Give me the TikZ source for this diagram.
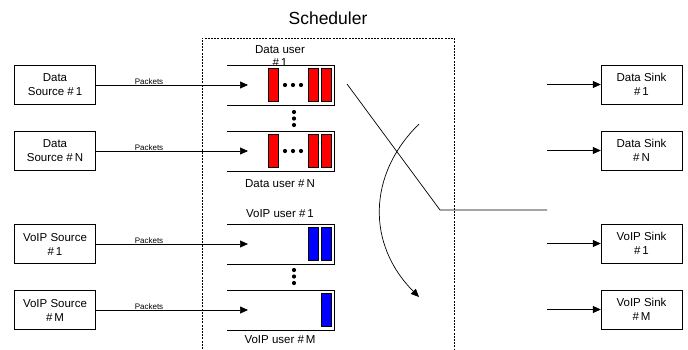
\documentclass[tikz,border=0pt]{standalone}
\usepackage{fontspec}
\setmainfont{Liberation Sans}
\usetikzlibrary{positioning,arrows.meta}
\newcommand\qleft{227}
\newcommand\qright{334}
\newcommand\drawqueue[2]{
  \draw (\qleft,#1) -- (\qright,#1) -- (\qright,#1+40) -- (\qleft,#1+40);
  \coordinate (#2) at (248,#1+20);
}
\newcommand\drawpacket[3]{
  \draw[packet,fill=#3] (#1,#2+3) rectangle ++(10,33);
}
\newcommand\drawdots[2]{
  \fill (#1,#2) circle (2.1) ++(8,0) circle (2.1) ++(8,0) circle (2.1);
}
\newcommand\drawvdots[1]{
  \fill (294,#1) circle (2.1) ++(0,6.5) circle (2.1) ++(0,6.5) circle (2.1);
}

\begin{document}
\begin{tikzpicture}[
    x=1pt,y=-1pt,
    box/.style={draw,minimum width=81pt,minimum height=39pt,inner sep=0pt,
      align=center,font=\fontsize{11.5}{14}\selectfont},
    qlabel/.style={inner sep=0pt,align=center,font=\fontsize{11.5}{13}\selectfont},
    pkt/.style={font=\fontsize{8}{9}\selectfont,inner sep=0.5pt},
    packet/.style={line width=0.6pt},
    flow/.style={-{Triangle[length=8pt,width=7pt]},line width=0.7pt},
    sched/.style={dash pattern=on 2pt off 1.2pt,line width=0.7pt}
  ]
    \useasboundingbox (0,0) rectangle (688,349);

    % scheduler frame
    \draw[sched] (202,349) -- (202,38) -- (454,38) -- (454,349);
    \node[font=\fontsize{17.5}{20}\selectfont] (title) at (328,18) {Scheduler};

    % sources
    \node[box] (dsrc1) at (55,85) {Data\\Source \#\,1};
    \node[box] (dsrcN) at (55,151) {Data\\Source \#\,N};
    \node[box] (vsrc1) at (55,244) {VoIP Source\\\#\,1};
    \node[box] (vsrcM) at (55,310) {VoIP Source\\\#\,M};

    % queues
    \begin{scope}[line width=0.7pt]
      \drawqueue{65}{dq1}
      \drawqueue{131}{dqN}
      \drawqueue{224}{vq1}
      \drawqueue{290}{vqM}
    \end{scope}

    \node[qlabel] (dq1lbl) at (280,56) {Data user\\\#\,1};
    \node[qlabel] (dqNlbl) at (280,184) {Data user \#\,N};
    \node[qlabel] (vq1lbl) at (280,214) {VoIP user \#\,1};
    \node[qlabel] (vqMlbl) at (280,340) {VoIP user \#\,M};

    % packets
    \drawpacket{268}{65}{red}
    \drawpacket{308}{65}{red}
    \drawpacket{321}{65}{red}
    \drawdots{285}{85}
    \drawpacket{268}{131}{red}
    \drawpacket{308}{131}{red}
    \drawpacket{321}{131}{red}
    \drawdots{285}{151}
    \drawpacket{308}{224}{blue}
    \drawpacket{321}{224}{blue}
    \drawpacket{321}{290}{blue}
    \drawvdots{112}
    \drawvdots{270}

    % arrivals
    \draw[flow] (dsrc1) -- node[pkt,above,pos=0.35] {Packets} (dq1);
    \draw[flow] (dsrcN) -- node[pkt,above,pos=0.35] {Packets} (dqN);
    \draw[flow] (vsrc1) -- node[pkt,above,pos=0.35] {Packets} (vq1);
    \draw[flow] (vsrcM) -- node[pkt,above,pos=0.35] {Packets} (vqM);

    % switch
    \coordinate (sw1) at (347,84);
    \coordinate (sw2) at (440,210);
    \coordinate (sw3) at (547,210);
    \draw[line width=0.7pt] (sw1) -- (sw2) -- (sw3);
    \coordinate (turn1) at (419,124);
    \coordinate (turn2) at (419,297);
    \draw[flow] (turn1) .. controls (367,175) and (367,245) .. (turn2);

    % sinks
    \node[box] (dsink1) at (641.5,84.5) {Data Sink\\\#\,1};
    \node[box] (dsinkN) at (641.5,150.5) {Data Sink\\\#\,N};
    \node[box] (vsink1) at (641.5,243.5) {VoIP Sink\\\#\,1};
    \node[box] (vsinkM) at (641.5,309.5) {VoIP Sink\\\#\,M};

    \coordinate (out1) at (547,84.5);
    \coordinate (outN) at (547,150.5);
    \coordinate (out2) at (547,243.5);
    \coordinate (outM) at (547,309.5);
    \draw[flow] (out1) -- (dsink1);
    \draw[flow] (outN) -- (dsinkN);
    \draw[flow] (out2) -- (vsink1);
    \draw[flow] (outM) -- (vsinkM);
  \end{tikzpicture}
\end{document}
